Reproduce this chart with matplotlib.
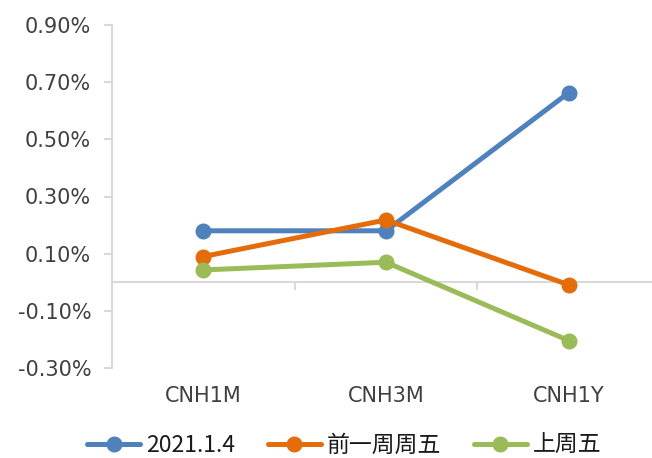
import matplotlib
matplotlib.use('Agg')
import matplotlib.pyplot as plt
from matplotlib.ticker import FuncFormatter

plt.rcParams['font.family'] = ['Noto Sans CJK SC', 'DejaVu Sans']

categories = ['CNH1M', 'CNH3M', 'CNH1Y']
series_names = ['2021.1.4', '前一周周五', '上周五']
series_values = [
    [0.180, 0.180, 0.663],
    [0.090, 0.218, -0.009],
    [0.043, 0.070, -0.204],
]
series_colors = ['#4F81BD', '#E46C0A', '#9BBB59']
y_ticks = [-0.30, -0.10, 0.10, 0.30, 0.50, 0.70, 0.90]

GRID_GREY = '#D9D9D9'
TEXT_GREY = '#404040'

fig = plt.figure(figsize=(6.52, 4.58), dpi=100)
ax = fig.add_axes([112 / 652, 90 / 458, 548 / 652, 343 / 458])

x = list(range(len(categories)))
for name, values, color in zip(series_names, series_values, series_colors):
    ax.plot(x, values, color=color, lw=3.6, marker='o', ms=10.5,
            solid_capstyle='round', label=name, zorder=3)

ax.set_xlim(-0.5, len(categories) - 0.5)
ax.set_ylim(y_ticks[0], y_ticks[-1])

# value axis on the left
ax.set_yticks(y_ticks)
ax.yaxis.set_major_formatter(FuncFormatter(lambda v, p: '{:.2f}%'.format(v)))
ax.tick_params(axis='y', length=6, width=1.5, color=GRID_GREY, pad=9,
               labelsize=15, labelcolor=TEXT_GREY)
for lbl in ax.get_yticklabels():
    lbl.set_fontfamily('DejaVu Sans')

for side in ['top', 'right']:
    ax.spines[side].set_visible(False)
ax.spines['left'].set_color(GRID_GREY)
ax.spines['left'].set_linewidth(1.5)

# category axis crosses at zero, tick marks between categories
ax.spines['bottom'].set_position(('data', 0))
ax.spines['bottom'].set_color(GRID_GREY)
ax.spines['bottom'].set_linewidth(1.5)
ax.set_xticks([i + 0.5 for i in range(len(categories) - 1)])
ax.tick_params(axis='x', length=6, width=1.5, color=GRID_GREY, labelbottom=False)

# category labels below the plot area
sec = ax.secondary_xaxis('bottom')
sec.set_xticks(x)
sec.set_xticklabels(categories)
sec.spines['bottom'].set_visible(False)
sec.tick_params(axis='x', length=0, pad=13, labelsize=15, labelcolor=TEXT_GREY)
for lbl in sec.get_xticklabels():
    lbl.set_fontfamily('DejaVu Sans')

leg = fig.legend(loc='lower center', bbox_to_anchor=(0.528, 0.002), ncol=3,
                 frameon=False, fontsize=16.5, handlelength=2.3,
                 columnspacing=1.45, handletextpad=0.25, borderpad=0.0,
                 borderaxespad=0.0)
for t in leg.get_texts():
    t.set_color('#1A1A1A')

fig.savefig('out.png', dpi=100)
